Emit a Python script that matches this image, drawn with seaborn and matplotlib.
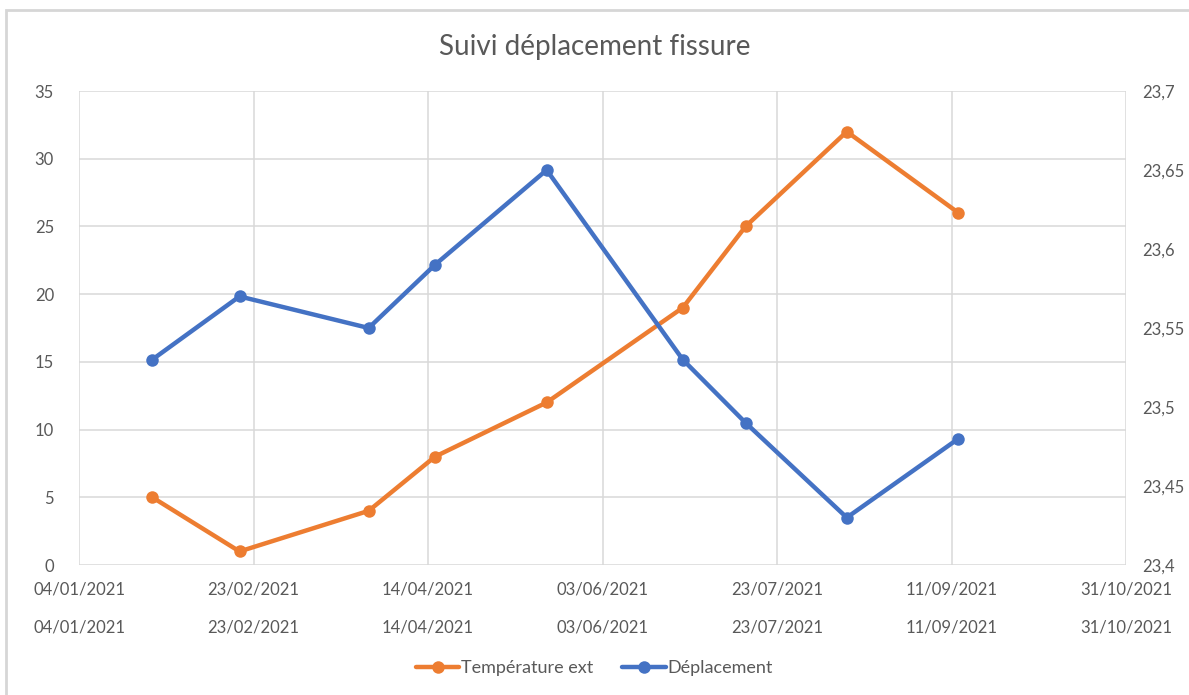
import pandas as pd
import numpy as np
import matplotlib
matplotlib.use("Agg")
import matplotlib.pyplot as plt
import matplotlib.dates as mdates
from matplotlib.patches import Rectangle
import seaborn as sns

# données
dates = ["25/01/2021", "19/02/2021", "28/03/2021", "16/04/2021", "18/05/2021",
         "26/06/2021", "14/07/2021", "12/08/2021", "13/09/2021"]
temperature_ext = [5, 1, 4, 8, 12, 19, 25, 32, 26]
deplacement = [23.53, 23.57, 23.55, 23.59, 23.65, 23.53, 23.49, 23.43, 23.48]

x_ticks = ["04/01/2021", "23/02/2021", "14/04/2021", "03/06/2021",
           "23/07/2021", "11/09/2021", "31/10/2021"]
left_ticks = [0, 5, 10, 15, 20, 25, 30, 35]
right_ticks = [23.4, 23.45, 23.5, 23.55, 23.6, 23.65, 23.7]
right_labels = ["23,4", "23,45", "23,5", "23,55", "23,6", "23,65", "23,7"]

df = pd.DataFrame({
    "date": pd.to_datetime(dates, format="%d/%m/%Y"),
    "temp": temperature_ext,
    "depl": deplacement,
})
tick_dates = pd.to_datetime(x_ticks, format="%d/%m/%Y")

sns.set_theme(style="white")
plt.rcParams["font.family"] = ["Lato", "DejaVu Sans"]
txt = "#595959"
grid_c = "#d9d9d9"
orange = "#ED7D31"
blue = "#4472C4"

fig = plt.figure(figsize=(11.89, 6.95), dpi=100)
ax = fig.add_axes([79 / 1189, 1 - 565 / 695, (1126 - 79) / 1189, (565 - 91) / 695])
ax2 = ax.twinx()

sns.lineplot(data=df, x="date", y="temp", ax=ax, color=orange, linewidth=3.2,
             marker="o", markersize=9, markeredgewidth=0, label="Température ext",
             legend=False)
sns.lineplot(data=df, x="date", y="depl", ax=ax2, color=blue, linewidth=3.2,
             marker="o", markersize=9, markeredgewidth=0, label="Déplacement",
             legend=False)

ax.set_xlim(tick_dates[0], tick_dates[-1])
ax.set_ylim(0, 35)
ax2.set_ylim(23.4, 23.7)
ax.set_xticks(tick_dates)
ax.set_xticklabels(x_ticks)
ax.set_yticks(left_ticks)
ax.set_yticklabels([str(v) for v in left_ticks])
ax2.set_yticks(right_ticks)
ax2.set_yticklabels(right_labels)

ax.grid(True, color=grid_c, linewidth=1.1)
ax.set_axisbelow(True)
ax2.grid(False)
for a in (ax, ax2):
    for s in a.spines.values():
        s.set_visible(False)
    a.set_xlabel("")
    a.set_ylabel("")
ax.tick_params(axis="x", length=0, pad=12, labelsize=12, labelcolor=txt)
ax.tick_params(axis="y", length=0, pad=18, labelsize=12, labelcolor=txt)
ax2.tick_params(axis="y", length=0, pad=12, labelsize=12, labelcolor=txt)

# deuxième rangée de dates (axe secondaire)
sec = ax.secondary_xaxis(-0.08)
sec.set_xticks(mdates.date2num(tick_dates), labels=x_ticks)
sec.tick_params(axis="x", length=0, pad=12, labelsize=12, labelcolor=txt)
sec.spines["bottom"].set_visible(False)

fig.text(0.5, 1 - 47 / 695, "Suivi déplacement fissure", ha="center", va="center",
         fontsize=20, color=txt)

h1, l1 = ax.get_legend_handles_labels()
h2, l2 = ax2.get_legend_handles_labels()
fig.legend(h1 + h2, l1 + l2, loc="center", bbox_to_anchor=(0.5, 1 - 668 / 695),
           ncol=2, frameon=False, prop={"size": 13}, labelcolor=txt, handlelength=2.4,
           handletextpad=0.1, columnspacing=1.6)

# cadre du graphique
fig.patches.append(Rectangle((6 / 1189, -0.05), 1.1, 1 - 10 / 695 + 0.05,
                             transform=fig.transFigure, fill=False,
                             edgecolor="#d6d6d6", linewidth=2))

fig.savefig("out.png", dpi=100)
